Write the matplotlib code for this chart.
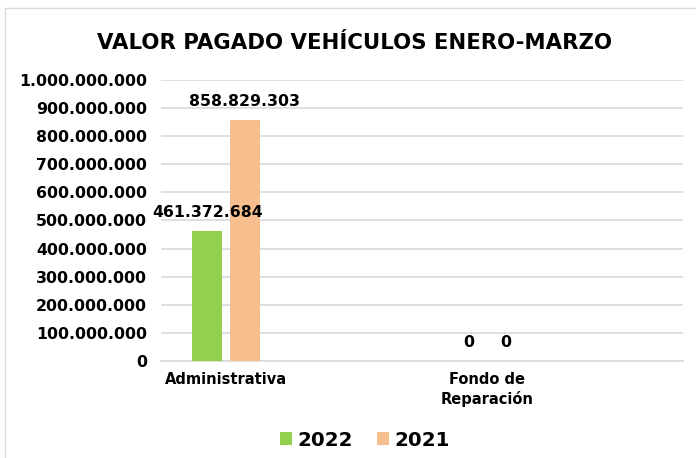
import matplotlib
matplotlib.use('Agg')
import matplotlib.pyplot as plt
import matplotlib.patches as mpatches
import numpy as np

plt.rcParams['font.family'] = ['DejaVu Sans']

categorias = ['Administrativa', 'Fondo de\nReparación']
valores_2022 = [461372684, 0]
valores_2021 = [858829303, 0]
etiquetas_2022 = ['461.372.684', '0']
etiquetas_2021 = ['858.829.303', '0']
color_2022 = '#92D050'
color_2021 = '#F8BF8E'


def fmt_miles(v, pos=None):
    return f'{int(v):,}'.replace(',', '.')


fig = plt.figure(figsize=(6.96, 4.58), dpi=100)
ax = fig.add_axes([161 / 696, 97 / 458, 522 / 696, 281 / 458])

# marco del grafico
fig.patches.append(mpatches.Rectangle((5 / 696, -0.1), 1.2, (450 / 458) + 0.1,
                                      transform=fig.transFigure, fill=False,
                                      edgecolor='#D9D9D9', linewidth=1))

x = np.arange(len(categorias))
ancho = 0.115
desp = 0.071
b1 = ax.bar(x - desp, valores_2022, ancho, color=color_2022, label='2022', zorder=3)
b2 = ax.bar(x + desp, valores_2021, ancho, color=color_2021, label='2021', zorder=3)

for barra, txt in zip(b1, etiquetas_2022):
    ax.annotate(txt, (barra.get_x() + barra.get_width() / 2, barra.get_height()),
                xytext=(0, 11), textcoords='offset pixels', ha='center', va='bottom',
                fontsize=11.3, fontweight='bold')
for barra, txt in zip(b2, etiquetas_2021):
    ax.annotate(txt, (barra.get_x() + barra.get_width() / 2, barra.get_height()),
                xytext=(0, 11), textcoords='offset pixels', ha='center', va='bottom',
                fontsize=11.3, fontweight='bold')

ax.set_ylim(0, 1000000000)
ax.set_yticks(np.arange(0, 1000000001, 100000000))
ax.yaxis.set_major_formatter(plt.FuncFormatter(fmt_miles))
ax.set_xlim(-0.249, 1.751)
ax.set_xticks(x)
ax.set_xticklabels(categorias, fontsize=10.5, fontweight='bold', linespacing=1.3)
for lbl in ax.get_yticklabels():
    lbl.set_fontweight('bold')
    lbl.set_fontsize(11.3)

ax.grid(axis='y', color='#D9D9D9', linewidth=1.2, zorder=0)
for s in ['top', 'right', 'left']:
    ax.spines[s].set_visible(False)
ax.spines['bottom'].set_color('#D9D9D9')
ax.spines['bottom'].set_linewidth(1.2)
ax.tick_params(axis='both', length=0)
ax.tick_params(axis='y', pad=10)
ax.tick_params(axis='x', pad=8)

fig.text(355 / 696, 1 - 43 / 458, 'VALOR PAGADO VEHÍCULOS ENERO-MARZO',
         ha='center', va='center', fontsize=15.3, fontweight='bold')

fig.legend(handles=[b1, b2], labels=['2022', '2021'], loc='center',
           bbox_to_anchor=(365 / 696, 1 - 440 / 458), ncol=2, frameon=False,
           prop={'weight': 'bold', 'size': 14.3}, handlelength=0.6, handleheight=0.6,
           handletextpad=0.3, columnspacing=1.2)

fig.savefig('out.png', dpi=100)
